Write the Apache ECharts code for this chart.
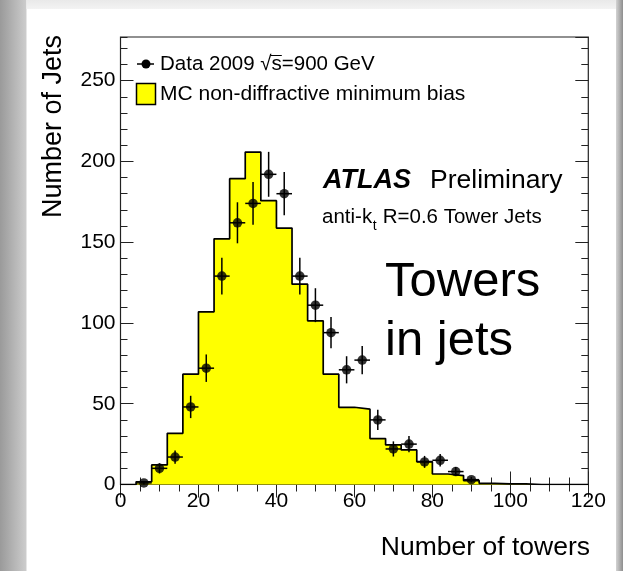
<!DOCTYPE html>
<html><head><meta charset="utf-8">
<script src="https://cdn.jsdelivr.net/npm/echarts@6/dist/echarts.min.js"></script>
<style>html,body{margin:0;padding:0;background:#fff;}#c{width:623px;height:571px;}</style>
</head><body><div id="c"></div>
<script>
// ---- data ----
const binLow = [0,4,8,12,16,20,24,28,32,36,40,44,48,52,56,60,64,68,72,76,80,84,88,92,96,100,104,108,112,116];
const binHigh = 120;
const mcCounts = [0,1.7,12.1,31.7,68.3,106.9,152.1,189.3,205.8,175.7,158.7,124,101.3,68.3,47.8,46.6,28.4,24.5,21.4,14.1,6.5,5.5,2.4,0.75,0.4,0.4,0,0,0,0];
const dataX = [6,10,14,18,22,26,30,34,38,42,46,50,54,58,62,66,70,74,78,82,86,90];
const dataY = [1,10,17,48,72,129,162,174,192,180,129,111,94,71,77,40,22,25,14,15,8,3];
const dataErr = [1,3.2,4.1,6.9,8.5,11.4,12.7,13.2,13.9,13.4,11.4,10.5,9.7,8.4,8.8,6.3,4.7,5,3.7,3.9,2.8,1.7];
const xTicks = [0,20,40,60,80,100,120];
const yTicks = [0,50,100,150,200,250];
const yMax = 277;

const FONT = "'Liberation Sans', Arial, Helvetica, sans-serif";
const chart = echarts.init(document.getElementById('c'), null, {renderer:'canvas'});

const mcLine = binLow.map((x,i)=>[x, mcCounts[i]]).concat([[binHigh, mcCounts[mcCounts.length-1]]]);
const halfBin = (binLow[1]-binLow[0])/2;

// text measuring for the sqrt overline / subscript placement
const mctx = document.createElement('canvas').getContext('2d');
function tw(s, size, style){ mctx.font = (style||'') + ' ' + size + "px " + FONT; return mctx.measureText(s).width; }

const legFs1 = 20.5, legFs2 = 21;
const leg1X = 160, leg1Y = 64;
const sqrtStart = leg1X + tw('Data 2009 \u221A', legFs1) - 1;
const sWidth = tw('s', legFs1) + 1;
const subFs = 20.5;

const gx0 = 120.5, gy0 = 37, gx1 = 588.3, gy1 = 484.5;

function yAxisDef(pos, interval, len, labels){
  return {
    type:'value', position:pos, min:0, max:yMax, interval:interval,
    axisLine:{show:false}, splitLine:{show:false},
    axisTick:{show:true, inside:true, length:len, lineStyle:{color:'#222', width:1}},
    axisLabel:{show:labels, fontSize:21, fontFamily:FONT, color:'#000', margin:5,
      showMaxLabel:false,
      formatter:(v)=> yTicks.includes(v) ? String(v) : ''}
  };
}
function xAxisDef(pos, labels){
  return {
    type:'value', position:pos, min:0, max:binHigh, interval:20,
    axisLine:{show:false}, splitLine:{show:false},
    axisTick:{show:true, inside:true, length:13, lineStyle:{color:'#222', width:1}},
    minorTick:{show:true, splitNumber:4, length:7, lineStyle:{color:'#222', width:1}},
    axisLabel:{show:labels, fontSize:21, fontFamily:FONT, color:'#000', margin:6,
      formatter:(v)=> xTicks.includes(v) ? String(v) : ''}
  };
}

const option = {
  animation:false,
  backgroundColor:'#fff',
  grid:{left:gx0, top:gy0, width:gx1-gx0, height:gy1-gy0, show:true, borderColor:'#222', borderWidth:1.2, backgroundColor:'transparent'},
  xAxis:[xAxisDef('bottom', true), xAxisDef('top', false)],
  yAxis:[yAxisDef('left',50,13,true), yAxisDef('left',10,7,false), yAxisDef('right',50,13,false), yAxisDef('right',10,7,false)],
  series:[
    {type:'line', step:'end', data:mcLine, symbol:'none', xAxisIndex:0, yAxisIndex:0,
      lineStyle:{color:'#000', width:1.7}, areaStyle:{color:'#ffff00', opacity:1}, z:2},
    {type:'custom', xAxisIndex:0, yAxisIndex:0, z:3,
      data:dataX.map((x,i)=>[x, dataY[i], dataErr[i]]),
      encode:{x:0, y:1},
      renderItem:(params, api)=>{
        const x = api.value(0), y = api.value(1), e = api.value(2);
        const l = api.coord([x-halfBin, y]), r = api.coord([x+halfBin, y]);
        const t = api.coord([x, y+e]), b = api.coord([x, Math.max(0, y-e)]);
        return {type:'group', children:[
          {type:'line', shape:{x1:l[0], y1:l[1], x2:r[0], y2:r[1]}, style:{stroke:'#000', lineWidth:1.5}},
          {type:'line', shape:{x1:t[0], y1:t[1], x2:b[0], y2:b[1]}, style:{stroke:'#000', lineWidth:1.5}}
        ]};
      }},
    {type:'scatter', xAxisIndex:0, yAxisIndex:0, z:4,
      data:dataX.map((x,i)=>[x, dataY[i]]), symbol:'circle', symbolSize:9.5,
      itemStyle:{color:'#000'}}
  ],
  graphic:[
    // page frame
    {type:'rect', shape:{x:0,y:0,width:26.5,height:571}, style:{fill:new echarts.graphic.LinearGradient(0,0,1,0,[{offset:0,color:'#9a9a9a'},{offset:1,color:'#cdcdcd'}])}, silent:true},
    {type:'rect', shape:{x:26.5,y:0,width:591,height:9}, style:{fill:new echarts.graphic.LinearGradient(0,0,0,1,[{offset:0,color:'#e9e9e9'},{offset:1,color:'#f3f3f3'}])}, silent:true},
    {type:'rect', shape:{x:616,y:0,width:7,height:571}, style:{fill:new echarts.graphic.LinearGradient(0,0,1,0,[{offset:0,color:'#d3d3d3'},{offset:1,color:'#8e8e8e'}])}, silent:true},
    // axis titles
    {type:'text', x:54, y:35, rotation:Math.PI/2, style:{text:'Number of Jets', font:'27px '+FONT, fill:'#000', align:'right', verticalAlign:'middle'}},
    {type:'text', x:590, y:548, style:{text:'Number of towers', font:'26.5px '+FONT, fill:'#000', align:'right', verticalAlign:'middle'}},
    // legend
    {type:'line', shape:{x1:137, y1:leg1Y, x2:154, y2:leg1Y}, style:{stroke:'#000', lineWidth:1.5}},
    {type:'circle', shape:{cx:146, cy:leg1Y, r:4.5}, style:{fill:'#000'}},
    {type:'text', x:leg1X, y:leg1Y, style:{text:'Data 2009 \u221As=900 GeV', font:legFs1+'px '+FONT, fill:'#000', align:'left', verticalAlign:'middle'}},
    {type:'line', shape:{x1:sqrtStart, y1:leg1Y-8.5, x2:sqrtStart+sWidth, y2:leg1Y-8.5}, style:{stroke:'#000', lineWidth:1}},
    {type:'rect', shape:{x:136.5, y:83.5, width:19, height:21}, style:{fill:'#ffff00', stroke:'#000', lineWidth:1.5}},
    {type:'text', x:leg1X, y:94, style:{text:'MC non-diffractive minimum bias', font:legFs2+'px '+FONT, fill:'#000', align:'left', verticalAlign:'middle'}},
    // ATLAS label
    {type:'text', x:323, y:181, style:{text:'ATLAS', font:'italic bold 27px '+FONT, fill:'#000', align:'left', verticalAlign:'middle'}},
    {type:'text', x:430, y:181, style:{text:'Preliminary', font:'26.5px '+FONT, fill:'#000', align:'left', verticalAlign:'middle'}},
    {type:'text', x:322, y:217, style:{text:'anti-k', font:subFs+'px '+FONT, fill:'#000', align:'left', verticalAlign:'middle'}},
    {type:'text', x:322+tw('anti-k',subFs)+0.5, y:226, style:{text:'t', font:'14px '+FONT, fill:'#000', align:'left', verticalAlign:'middle'}},
    {type:'text', x:322+tw('anti-k',subFs)+tw('t',14)+1, y:217, style:{text:' R=0.6 Tower Jets', font:subFs+'px '+FONT, fill:'#000', align:'left', verticalAlign:'middle'}},
    {type:'text', x:385, y:282, style:{text:'Towers', font:'49px '+FONT, fill:'#000', align:'left', verticalAlign:'middle'}},
    {type:'text', x:385, y:341, style:{text:'in jets', font:'49px '+FONT, fill:'#000', align:'left', verticalAlign:'middle'}}
  ]
};
chart.setOption(option);
</script>
</body></html>
